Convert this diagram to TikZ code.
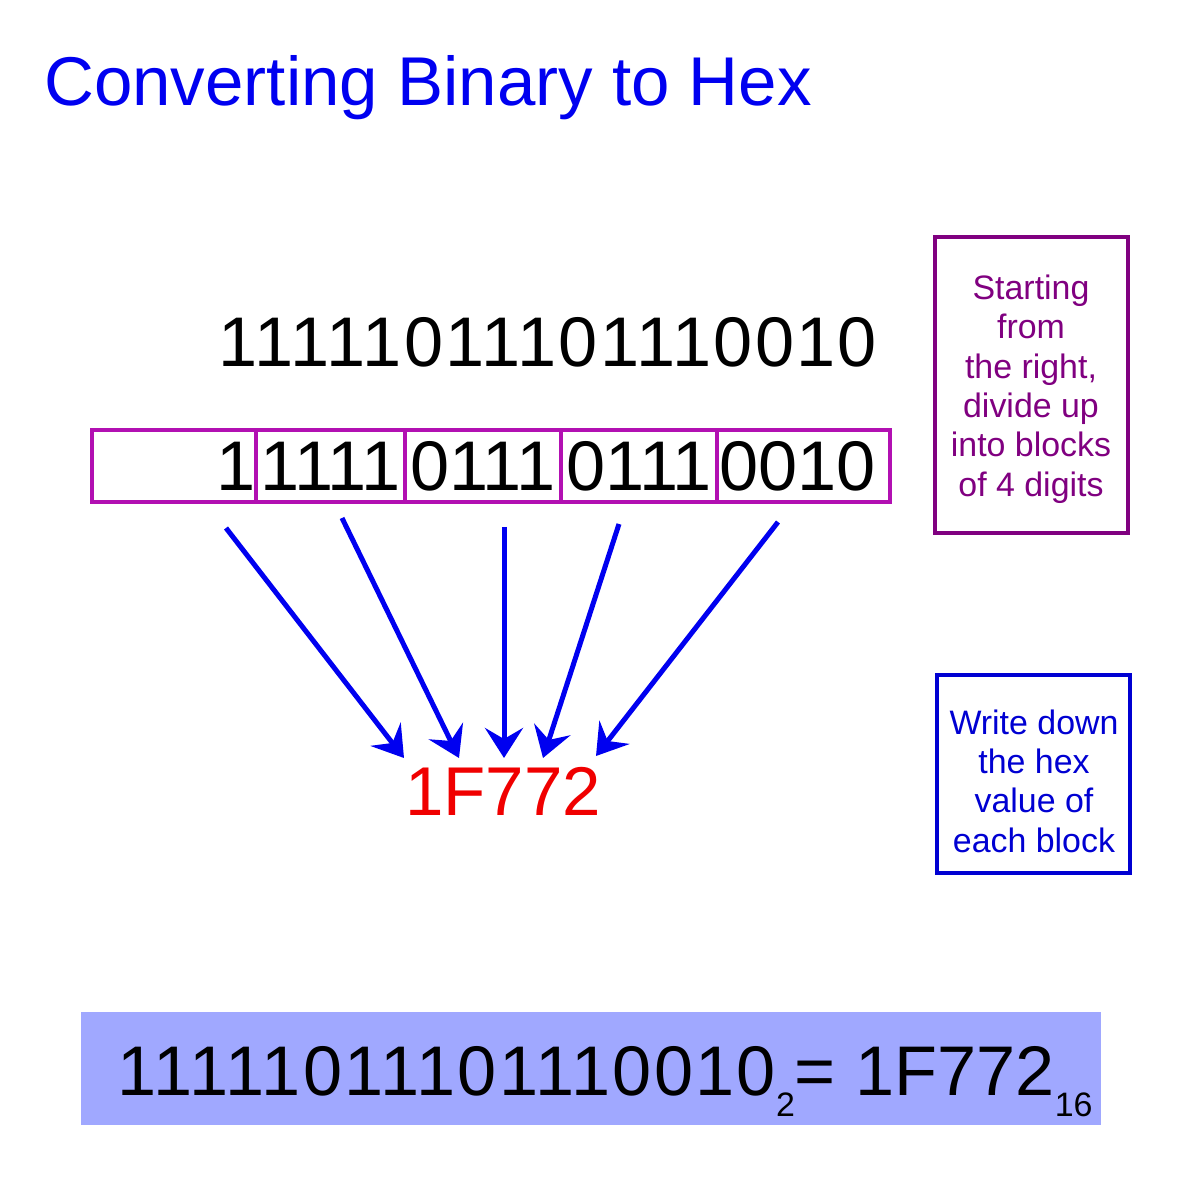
\documentclass[tikz,border=0pt]{standalone}
\usepackage{fontspec}
\setmainfont{Liberation Sans}
\usepackage{tikz}
\usetikzlibrary{arrows.meta,calc}
\definecolor{titleblue}{RGB}{0,0,240}
\definecolor{blockmag}{RGB}{178,16,178}
\definecolor{notepurple}{RGB}{128,0,128}
\definecolor{noteblue}{RGB}{0,0,210}
\definecolor{hexred}{RGB}{240,0,0}
\definecolor{eqfill}{RGB}{160,168,255}
\newcommand{\digfont}{\fontsize{40}{48}\selectfont}
\newcommand{\widedigfont}{\fontsize{40}{48}\selectfont\addfontfeature{LetterSpace=3.2}}
\newcommand{\titlefont}{\fontsize{39.3}{47}\selectfont}
\newcommand{\notefont}{\fontsize{19.3}{22.4}\selectfont}
\tikzstyle{blockbox}=[draw=blockmag, line width=0.08cm, minimum height=1.44cm, inner sep=0pt, font=\digfont]
\tikzstyle{notebox}=[line width=0.08cm, align=center, font=\notefont, inner sep=0pt]
\tikzstyle{hexarrow}=[-{Stealth[length=0.6cm,width=0.76cm,inset=0.22cm]}, line width=0.1cm, titleblue]
\tikzstyle{plaintext}=[anchor=base west, inner sep=0pt]
\begin{document}
\begin{tikzpicture}[x=0.02cm, y=-0.02cm]
	\useasboundingbox (0,0) rectangle (1183,1200);
	\node[plaintext, font=\titlefont, text=titleblue] (title) at (44,105) {Converting Binary to Hex};
	\node[plaintext, font=\widedigfont] (binary) at (218,366) {11111011101110010};
	% blocks of 4, counted from the right
	\node[blockbox, minimum width=3.28cm, text width=3.28cm, align=right] (blk1) at (174,466) {1};
	\node[blockbox, minimum width=2.98cm] (blk2) at (330.5,466) {1111};
	\node[blockbox, minimum width=3.12cm] (blk3) at (483,466) {0111};
	\node[blockbox, minimum width=3.12cm] (blk4) at (639,466) {0111};
	\node[blockbox, minimum width=3.46cm] (blk5) at (803.5,466) {0010\kern0.24cm};
	\node[notebox, draw=notepurple, text=notepurple, minimum width=3.86cm, minimum height=5.92cm] (divnote) at (1031.5,385) {};
	\node[notebox, text=notepurple] (divnotetext) at (1031,389) {Starting\\from\\the right,\\divide up\\into blocks\\of 4 digits};
	\node[notebox, draw=noteblue, text=noteblue, minimum width=3.86cm, minimum height=3.96cm] (hexnote) at (1033.5,774) {};
	\node[notebox, text=noteblue] (hexnotetext) at (1034,781) {Write down\\the hex\\value of\\each block};
	\node[plaintext, font=\titlefont, text=hexred] (hex) at (405,815) {1F772};
	\coordinate (tip1) at (404,758);
	\coordinate (tip2) at (459,758);
	\coordinate (tip3) at (504,758);
	\coordinate (tip4) at (543,758);
	\coordinate (tip5) at (596,756);
	\draw[hexarrow] ($(blk1.south)+(52,24)$) -- (tip1);
	\draw[hexarrow] ($(blk2.south)+(11.5,14)$) -- (tip2);
	\draw[hexarrow] ($(blk3.south)+(21,23)$) -- (tip3);
	\draw[hexarrow] ($(blk4.south)+(-20,20)$) -- (tip4);
	\draw[hexarrow] ($(blk5.south)+(-25.5,18)$) -- (tip5);
	% result
	\node[fill=eqfill, minimum width=20.4cm, minimum height=2.26cm, inner sep=0pt] (eqbox) at (591,1068.5) {};
	\node[plaintext, font=\digfont] (eqtext) at (117,1095) {{\widedigfont 11111011101110010}\raisebox{-12.5pt}{\notefont 2}= 1F772\raisebox{-12.5pt}{\notefont 16}};
\end{tikzpicture}
\end{document}
